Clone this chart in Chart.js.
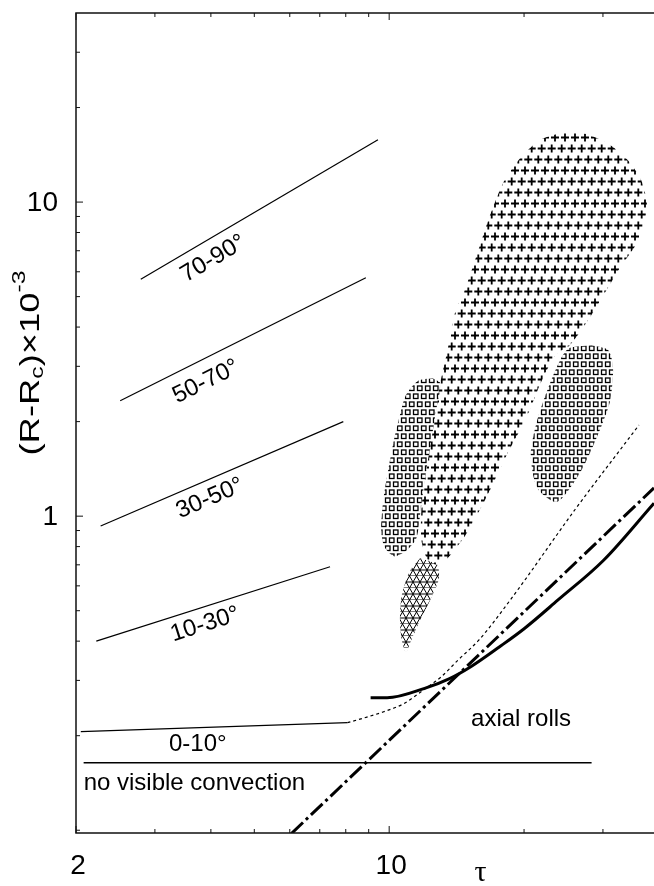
<!DOCTYPE html>
<html>
<head>
<meta charset="utf-8">
<script src="https://cdn.jsdelivr.net/npm/chart.js@4.4.0/dist/chart.umd.min.js"></script>
<style>
  html, body { margin: 0; padding: 0; background: #fff; }
  canvas { display: block; }
</style>
</head>
<body>
<canvas id="chart" width="654" height="886"></canvas>
<script>
// ---- data (tau, (R-Rc)x10^-3) ----
const xTicks = [2, 3, 4, 5, 6, 7, 8, 9, 10, 20, 30];
const xTickLabels = ['2', '', '', '', '', '', '', '', '10', '', ''];
const yTicks = [0.1, 0.2, 0.3, 0.4, 0.5, 0.6, 0.7, 0.8, 0.9, 1, 2, 3, 4, 5, 6, 7, 8, 9, 10, 20, 30, 40];
const yTickLabels = ['', '', '', '', '', '', '', '', '', '1', '', '', '', '', '', '', '', '', '10', '', '', ''];

const line7090 = [[2.79, 5.68], [9.44, 15.8]];
const line5070 = [[2.51, 2.33], [8.87, 5.74]];
const line3050 = [[2.27, 0.93], [7.9, 2.0]];
const line1030 = [[2.22, 0.40], [7.38, 0.69]];
const line010 = [[2.05, 0.206], [8.07, 0.22]];
const noConvection = [[2.08, 0.164], [28.3, 0.164]];

const dottedCurve = [[8.07, 0.22], [8.71, 0.227], [9.69, 0.238], [10.78, 0.253], [11.98, 0.281],
  [13.07, 0.308], [14.24, 0.348], [15.85, 0.403], [18.6, 0.539], [26.0, 1.05], [36.1, 1.95]];
const thickCurve = [[9.09, 0.264], [9.89, 0.264], [12.0, 0.283], [13.64, 0.304], [15.18, 0.331],
  [17.64, 0.384], [20.04, 0.439], [23.78, 0.540], [30.1, 0.724], [39.0, 1.10]];
const dashDotLine = [[6.05, 0.0976], [39.0, 1.23]];

const crossRegion = [[24.07, 16.6], [27.4, 16.5], [31.1, 15.2], [34.1, 13.6], [36.5, 11.75], [37.6, 9.9],
  [37.0, 8.4], [35.5, 7.3], [32.8, 6.2], [30.2, 5.1], [27.8, 4.21], [25.3, 3.5], [23.5, 3.26], [21.7, 2.62],
  [20.6, 2.18], [19.6, 1.88], [18.3, 1.57], [17.2, 1.30], [15.95, 1.05], [14.8, 0.87], [13.67, 0.75],
  [12.9, 0.70], [12.2, 0.724], [11.8, 0.839], [11.8, 1.04], [12.0, 1.30], [12.4, 1.72], [12.75, 2.2],
  [13.0, 2.65], [13.5, 3.38], [14.0, 4.4], [14.85, 5.4], [15.8, 7.0], [16.8, 9.1], [18.1, 11.75],
  [19.6, 13.8], [21.7, 15.76], [24.07, 16.6]];
const squaresLeft = [[12.5, 2.75], [11.6, 2.7], [10.9, 2.43], [10.57, 2.1], [10.25, 1.75], [9.95, 1.40],
  [9.7, 1.124], [9.6, 0.906], [9.75, 0.80], [10.25, 0.745], [10.9, 0.774], [11.5, 0.85], [11.75, 1.04],
  [12.0, 1.30], [12.4, 1.72], [12.75, 2.2], [13.0, 2.65], [12.5, 2.75]];
const squaresRight = [[28.3, 3.5], [25.0, 3.4], [23.0, 2.71], [21.4, 2.02], [20.7, 1.58], [21.4, 1.23],
  [23.7, 1.11], [26.7, 1.38], [29.1, 1.79], [31.1, 2.32], [31.6, 2.98], [30.8, 3.38], [28.3, 3.5]];
const triangleRegion = [[11.72, 0.735], [11.13, 0.67], [10.67, 0.56], [10.57, 0.466], [10.67, 0.403],
  [10.9, 0.37], [11.2, 0.403], [11.72, 0.466], [12.34, 0.54], [12.9, 0.63], [12.8, 0.70], [11.72, 0.735]];

// text labels and where they sit (data coords)
const angleLabels = ['70-90°', '50-70°', '30-50°', '10-30°'];
const angleLabelAt = [[4.05, 6.6], [3.9, 2.68], [3.98, 1.14], [3.88, 0.452]];
const angleLines = [line7090, line5070, line3050, line1030];

const pts = a => a.map(([x, y]) => ({ x, y }));
const canvas = document.getElementById('chart');
const ctx = canvas.getContext('2d');

function makePattern(w, h, draw) {
  const c = document.createElement('canvas');
  c.width = w; c.height = h;
  const g = c.getContext('2d');
  g.strokeStyle = '#000';
  draw(g, w, h);
  return ctx.createPattern(c, 'repeat');
}

const crossPat = makePattern(10, 33, (g, w) => {
  g.lineWidth = 1.8;
  [[5, 5.5], [1.7, 16.5], [8.3, 27.5]].forEach(([cx, cy]) => {
    [-w, 0, w].forEach(dx => {
      g.beginPath();
      g.moveTo(cx + dx - 4, cy); g.lineTo(cx + dx + 4, cy);
      g.moveTo(cx + dx, cy - 4); g.lineTo(cx + dx, cy + 4);
      g.stroke();
    });
  });
});
const squarePat = makePattern(8, 16, (g, w) => {
  g.lineWidth = 1.3;
  [[1, 1.5], [5, 9.5]].forEach(([sx, sy]) => {
    [-w, 0, w].forEach(dx => g.strokeRect(sx + dx + 0.5, sy + 0.5, 4.5, 4.5));
  });
});
const trianglePat = makePattern(7, 12, (g, w) => {
  g.lineWidth = 1;
  [[0, 0], [3.5, 6]].forEach(([ox, oy]) => {
    [-w, 0, w].forEach(dx => {
      g.beginPath();
      g.moveTo(ox + dx, oy + 6); g.lineTo(ox + dx + 3.5, oy); g.lineTo(ox + dx + 7, oy + 6); g.closePath();
      g.stroke();
    });
  });
});

function region(data, pattern) {
  return { data: pts(data), showLine: true, fill: 'shape', backgroundColor: pattern,
    borderColor: 'rgba(0,0,0,0)', borderWidth: 0, pointRadius: 0, tension: 0.25 };
}
function curve(data, width, dash, smooth) {
  return { data: pts(data), showLine: true, fill: false, borderColor: '#000', borderWidth: width,
    borderDash: dash || [], pointRadius: 0, tension: 0,
    cubicInterpolationMode: smooth ? 'monotone' : 'default' };
}

const axisPlugin = {
  id: 'axisPlugin',
  afterDatasetsDraw(chart) {
    const { ctx, chartArea: a, scales: { x, y } } = chart;
    ctx.save();
    ctx.strokeStyle = '#111';
    ctx.lineWidth = 1.5;
    ctx.beginPath();
    ctx.moveTo(a.right + 2, a.top); ctx.lineTo(a.left, a.top);
    ctx.lineTo(a.left, a.bottom); ctx.lineTo(a.right + 2, a.bottom);
    ctx.stroke();

    ctx.lineWidth = 1;
    xTicks.forEach((v, i) => {
      const px = x.getPixelForValue(v);
      const len = xTickLabels[i] ? 7 : 4;
      ctx.beginPath();
      ctx.moveTo(px, a.bottom); ctx.lineTo(px, a.bottom - len);
      ctx.moveTo(px, a.top); ctx.lineTo(px, a.top + len);
      ctx.stroke();
    });
    yTicks.forEach((v, i) => {
      const py = y.getPixelForValue(v);
      if (py < a.top + 1 || py > a.bottom - 1) return;
      const len = yTickLabels[i] ? 7 : 4;
      ctx.beginPath();
      ctx.moveTo(a.left, py); ctx.lineTo(a.left + len, py);
      ctx.stroke();
    });

    ctx.fillStyle = '#000';
    ctx.font = '28px "Liberation Sans", Arial, sans-serif';
    ctx.textAlign = 'center';
    ctx.textBaseline = 'middle';
    xTicks.forEach((v, i) => {
      if (xTickLabels[i]) ctx.fillText(xTickLabels[i], x.getPixelForValue(v) + 2, 866);
    });
    ctx.textAlign = 'right';
    yTicks.forEach((v, i) => {
      if (yTickLabels[i]) ctx.fillText(yTickLabels[i], 58, y.getPixelForValue(v) + 1);
    });

    // tau
    ctx.textAlign = 'center';
    ctx.font = '30px "Liberation Serif", "DejaVu Serif", serif';
    ctx.fillText('τ', x.getPixelForValue(16), 873);

    // y title, stretched along its length like the scan
    ctx.save();
    ctx.translate(31, 363);
    ctx.rotate(-Math.PI / 2);
    ctx.scale(1.3, 1);
    const big = '28px "Liberation Sans", Arial, sans-serif';
    const small = '19px "Liberation Sans", Arial, sans-serif';
    const parts = [['(R-R', big, 0], ['c', small, 7], [')×10', big, 0], ['-3', small, -11]];
    let total = 0;
    parts.forEach(([t, f]) => { ctx.font = f; total += ctx.measureText(t).width; });
    let cx = -total / 2;
    ctx.textAlign = 'left';
    parts.forEach(([t, f, dy]) => {
      ctx.font = f;
      ctx.fillText(t, cx, dy);
      cx += ctx.measureText(t).width;
    });
    ctx.restore();

    // angle labels along their lines
    ctx.font = '24px "Liberation Sans", Arial, sans-serif';
    ctx.textAlign = 'center';
    angleLabels.forEach((t, i) => {
      const [p0, p1] = angleLines[i];
      const ang = Math.atan2(y.getPixelForValue(p1[1]) - y.getPixelForValue(p0[1]),
        x.getPixelForValue(p1[0]) - x.getPixelForValue(p0[0]));
      ctx.save();
      ctx.translate(x.getPixelForValue(angleLabelAt[i][0]), y.getPixelForValue(angleLabelAt[i][1]));
      ctx.rotate(ang);
      ctx.fillText(t, 0, 0);
      ctx.restore();
    });
    ctx.fillText('0-10°', x.getPixelForValue(3.74), y.getPixelForValue(0.188));
    ctx.fillText('axial rolls', x.getPixelForValue(19.7), y.getPixelForValue(0.226));
    ctx.textAlign = 'left';
    ctx.fillText('no visible convection', x.getPixelForValue(2.08), y.getPixelForValue(0.141));
    ctx.restore();
  }
};

new Chart(ctx, {
  type: 'scatter',
  data: {
    datasets: [
      curve(line7090, 1.2),
      curve(line5070, 1.2),
      curve(line3050, 1.2),
      curve(line1030, 1.2),
      curve(line010, 1.2),
      curve(noConvection, 1.5),
      curve(dottedCurve, 1.2, [3, 3], true),
      curve(thickCurve, 3, [], true),
      curve(dashDotLine, 3, [16, 4, 3, 4]),
      region(crossRegion, crossPat),
      region(squaresLeft, squarePat),
      region(squaresRight, squarePat),
      region(triangleRegion, trianglePat)
    ]
  },
  options: {
    responsive: false,
    animation: false,
    layout: { padding: { left: 76, top: 13, right: 0, bottom: 53 } },
    plugins: { legend: { display: false }, tooltip: { enabled: false } },
    scales: {
      x: { type: 'logarithmic', min: 2, max: 39, display: false },
      y: { type: 'logarithmic', min: 0.098, max: 40, display: false }
    }
  },
  plugins: [axisPlugin]
});
</script>
</body>
</html>
